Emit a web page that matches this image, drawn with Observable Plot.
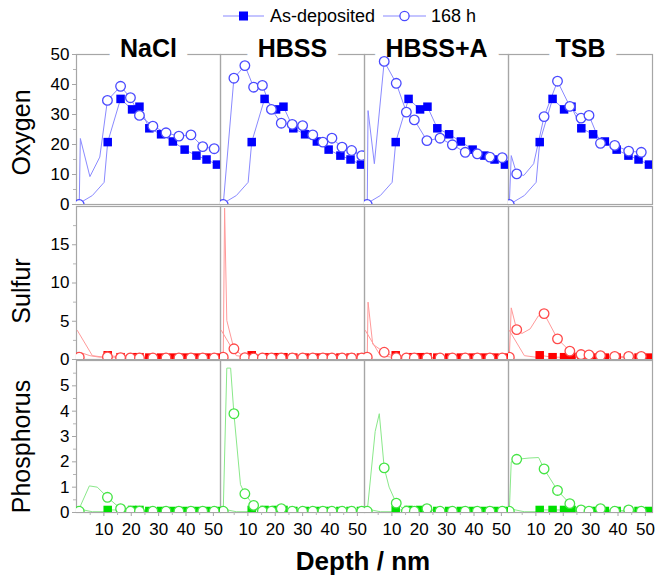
<!DOCTYPE html>
<html><head><meta charset="utf-8">
<script src="https://cdn.jsdelivr.net/npm/d3@7"></script>
<script src="https://cdn.jsdelivr.net/npm/@observablehq/plot@0.6"></script>
<style>
body{margin:0;background:#fff;font-family:"Liberation Sans",Arial,sans-serif;}
#chart{position:relative;width:660px;height:579px;overflow:hidden;background:#fff;}
</style></head><body><div id="chart"></div>
<script>
// ---------- categories / ticks ----------
const media = ["NaCl", "HBSS", "HBSS+A", "TSB"];
const seriesNames = ["As-deposited", "168 h"];
const xTicks = [10, 20, 30, 40, 50];
const xMinorTicks = [5, 15, 25, 35, 45];
const oxygenTicks = [0, 10, 20, 30, 40, 50];
const oxygenMinor = [5, 15, 25, 35, 45];
const sulfurTicks = [0, 5, 10, 15];
const sulfurMinor = [2.5, 7.5, 12.5, 17.5];
const phosphorusTicks = [0, 1, 2, 3, 4, 5];
const phosphorusMinor = [0.5, 1.5, 2.5, 3.5, 4.5, 5.5];

// ---------- As-deposited (same sample in every panel) ----------
const adDepth = [11.4, 16.1, 20.3, 23.0, 26.6, 30.9, 35.2, 39.5, 43.8, 47.5, 51.3];
const adOxygen = [20.8, 35.2, 31.7, 32.6, 25.4, 23.4, 21.0, 18.3, 16.3, 15.0, 13.3];
const adSulfur = [0.55, 0.3, 0.3, 0.3, 0.25, 0.25, 0.25, 0.25, 0.25, 0.25, 0.25];
const adPhosphorus = [0.1, 0.1, 0.1, 0.1, 0.06, 0.06, 0.06, 0.06, 0.06, 0.06, 0.06];
// surface points of the profile line (no marker)
const adSurfaceDepth = [0.3, 5.8, 10.1];
const adSurfaceOxygen = [0, 3.0, 7.4];
const adSurfaceSulfur = [3.8, 0.5, 0.3];
const adSurfacePhosphorus = [0.15, 0.03, 0.03];

// ---------- 168 h : NaCl ----------
const nacl168Depth = [1.0, 11.3, 16.1, 19.7, 23.0, 27.9, 32.7, 37.4, 41.8, 46.1, 50.3];
const nacl168Oxygen = [0, 34.7, 39.4, 35.6, 29.7, 26.1, 23.9, 22.8, 23.2, 19.3, 18.6];
const nacl168Sulfur = [0.3, 0.35, 0.25, 0.2, 0.2, 0.2, 0.2, 0.2, 0.2, 0.2, 0.2];
const nacl168Phosphorus = [0.05, 0.6, 0.15, 0.05, 0.05, 0.05, 0.05, 0.05, 0.05, 0.05, 0.05];
const nacl168OxygenSurface = [[1.4, 22], [4.9, 9.3], [8.5, 15.8]];
const nacl168SulfurSurface = [[1.6, 0.9], [4.9, 0.5], [8.5, 0.3]];
const nacl168PhosphorusSurface = [[1.6, 0.3], [4.7, 1.05], [7.6, 1.0]];

// ---------- 168 h : HBSS ----------
const hbss168Depth = [1.0, 4.9, 8.9, 12.1, 15.3, 18.6, 22.2, 26.2, 30.0, 33.7, 37.4, 40.7, 44.4, 47.9, 51.6];
const hbss168Oxygen = [0, 42.1, 46.3, 39.1, 39.7, 31.7, 27.1, 26.7, 26.3, 23.2, 20.8, 22.1, 19.1, 18.0, 16.3];
const hbss168Sulfur = [0.3, 1.4, 0.25, 0.2, 0.2, 0.2, 0.2, 0.2, 0.2, 0.2, 0.2, 0.2, 0.2, 0.2, 0.2];
const hbss168Phosphorus = [0.05, 3.9, 0.74, 0.28, 0.05, 0.05, 0.15, 0.05, 0.05, 0.05, 0.05, 0.05, 0.05, 0.05, 0.05];
const hbss168OxygenSurface = [];
const hbss168SulfurSurface = [[1.5, 19.8], [2.3, 5.1]];
const hbss168PhosphorusSurface = [[2.3, 5.7], [3.7, 5.7], [7.3, 1.1]];

// ---------- 168 h : HBSS+A ----------
const hbssa168Depth = [1.0, 7.2, 11.6, 15.3, 18.2, 22.8, 27.6, 32.1, 36.8, 41.2, 45.8, 50.3];
const hbssa168Oxygen = [0, 47.7, 40.4, 30.8, 28.2, 21.3, 22.1, 19.9, 17.4, 16.9, 15.8, 15.6];
const hbssa168Sulfur = [0.3, 0.95, 0.25, 0.2, 0.2, 0.2, 0.2, 0.2, 0.2, 0.2, 0.2, 0.2];
const hbssa168Phosphorus = [0.05, 1.76, 0.37, 0.05, 0.05, 0.15, 0.05, 0.05, 0.05, 0.05, 0.05, 0.05];
const hbssa168OxygenSurface = [[1.3, 31.3], [3.6, 13.6]];
const hbssa168SulfurSurface = [[1.3, 7.5], [3.0, 2.0]];
const hbssa168PhosphorusSurface = [[3.9, 3.2], [5.4, 3.9], [9.0, 1.0]];

// ---------- 168 h : TSB ----------
const tsb168Depth = [0.3, 3.0, 13.0, 17.9, 22.4, 26.5, 29.4, 33.6, 38.8, 43.9, 48.5];
const tsb168Oxygen = [0, 10.2, 29.3, 41.1, 32.7, 28.8, 29.7, 20.4, 19.7, 17.8, 17.4];
const tsb168Sulfur = [0.3, 3.9, 6.0, 2.7, 1.1, 0.65, 0.6, 0.5, 0.4, 0.4, 0.4];
const tsb168Phosphorus = [0.05, 2.1, 1.72, 0.87, 0.35, 0.1, 0.05, 0.15, 0.05, 0.1, 0.05];
const tsb168OxygenSurface = [[1.0, 16.3], [5.6, 9.7], [9.2, 13.6]];
const tsb168SulfurSurface = [[1.0, 6.75], [4.9, 3.4], [7.9, 4.0], [10.9, 5.7]];
const tsb168PhosphorusSurface = [[1.0, 2.0], [7.5, 2.15], [11.0, 2.17]];

// ---------- assemble ----------
const adByElement = {
  Oxygen: [adOxygen, adSurfaceOxygen],
  Sulfur: [adSulfur, adSurfaceSulfur],
  Phosphorus: [adPhosphorus, adSurfacePhosphorus]
};
const h168 = {
  "NaCl": {depth: nacl168Depth, Oxygen: [nacl168Oxygen, nacl168OxygenSurface], Sulfur: [nacl168Sulfur, nacl168SulfurSurface], Phosphorus: [nacl168Phosphorus, nacl168PhosphorusSurface]},
  "HBSS": {depth: hbss168Depth, Oxygen: [hbss168Oxygen, hbss168OxygenSurface], Sulfur: [hbss168Sulfur, hbss168SulfurSurface], Phosphorus: [hbss168Phosphorus, hbss168PhosphorusSurface]},
  "HBSS+A": {depth: hbssa168Depth, Oxygen: [hbssa168Oxygen, hbssa168OxygenSurface], Sulfur: [hbssa168Sulfur, hbssa168SulfurSurface], Phosphorus: [hbssa168Phosphorus, hbssa168PhosphorusSurface]},
  "TSB": {depth: tsb168Depth, Oxygen: [tsb168Oxygen, tsb168OxygenSurface], Sulfur: [tsb168Sulfur, tsb168SulfurSurface], Phosphorus: [tsb168Phosphorus, tsb168PhosphorusSurface]}
};

function makeSeries(medium, name, depths, values, extra) {
  const pts = depths.map((d, i) => ({medium, series: name, depth: d, value: values[i], marker: true}));
  extra.forEach(([d, v]) => pts.push({medium, series: name, depth: d, value: v, marker: false}));
  return pts.sort((a, b) => a.depth - b.depth);
}
function rowsFor(el) {
  const out = [];
  for (const m of media) {
    const [adVals, adSurf] = adByElement[el];
    out.push(...makeSeries(m, seriesNames[0], adDepth, adVals, adSurfaceDepth.map((d, i) => [d, adSurf[i]])));
    const h = h168[m];
    out.push(...makeSeries(m, seriesNames[1], h.depth, h[el][0], h[el][1]));
  }
  return out;
}

const FONT = "'Liberation Sans', Arial, Helvetica, sans-serif";
const rows = [
  {el: "Oxygen", domain: [0, 50], ticks: oxygenTicks, minor: oxygenMinor, top: 0, height: 206, mt: 54, mb: 2, labelDy: 3, titles: true, xAxis: false,
   square: "#0000ff", circle: "#4a4aff", line: "#8a8aff"},
  {el: "Sulfur", domain: [0, 20], ticks: sulfurTicks, minor: sulfurMinor, top: 204, height: 157, mt: 2, mb: 2, labelDy: 8, titles: false, xAxis: false,
   square: "#ff0000", circle: "#ff4a4a", line: "#ff9a9a"},
  {el: "Phosphorus", domain: [0, 6], ticks: phosphorusTicks, minor: phosphorusMinor, top: 358, height: 221, mt: 2, mb: 67, labelDy: 10, titles: false, xAxis: true,
   square: "#00e000", circle: "#44e444", line: "#8ae88a"}
];

const chart = document.getElementById("chart");

for (const cfg of rows) {
  const data = rowsFor(cfg.el);
  const marks = [
    Plot.frame({stroke: "#a6a6a6", strokeWidth: 1.2}),
    Plot.axisY({ticks: cfg.minor, tickSize: 3, tickFormat: () => "", stroke: "#b5b5b5", label: null}),
    Plot.axisY({ticks: cfg.ticks, tickSize: 4, tickPadding: 3, tickFormat: d => String(d), fontSize: 17, stroke: "#a6a6a6", fill: "black", label: null}),
    Plot.text([cfg.el], {fx: () => media[0], frameAnchor: "left", textAnchor: "middle", lineAnchor: "middle", text: d => d, rotate: -90, dx: -55, dy: cfg.labelDy, fontSize: 25, fill: "black"})
  ];
  if (cfg.titles) {
    marks.push(Plot.text(media, {fx: d => d, text: d => d, frameAnchor: "top", textAnchor: "middle", lineAnchor: "middle", dy: -6, fontSize: 25, fontWeight: "bold",
      fill: "black", stroke: "white", strokeWidth: 24, strokeLinejoin: "round", paintOrder: "stroke"}));
  }
  if (cfg.xAxis) {
    marks.push(
      Plot.axisX({ticks: xMinorTicks, tickSize: 3, tickFormat: () => "", stroke: "#b5b5b5", label: null}),
      Plot.axisX({ticks: xTicks, tickSize: 4, tickPadding: 6, tickFormat: d => String(d), fontSize: 17, stroke: "#a6a6a6", fill: "black", label: null})
    );
  }
  marks.push(
    Plot.line(data, {fx: "medium", x: "depth", y: "value", z: "series", stroke: cfg.line, strokeWidth: 1, clip: true}),
    Plot.dot(data.filter(d => d.marker && d.series === seriesNames[0]), {fx: "medium", x: "depth", y: "value", symbol: "square", r: 4.8, fill: cfg.square, stroke: "none", clip: true}),
    Plot.dot(data.filter(d => d.marker && d.series === seriesNames[1]), {fx: "medium", x: "depth", y: "value", symbol: "circle", r: 4.8, fill: "white", stroke: cfg.circle, strokeWidth: 1.3, clip: true})
  );
  const svg = Plot.plot({
    width: 660, height: cfg.height,
    marginLeft: 74, marginRight: 7, marginTop: cfg.mt, marginBottom: cfg.mb,
    fx: {domain: media, padding: 0, axis: null, label: null},
    x: {domain: [0, 52.6], axis: null},
    y: {domain: cfg.domain, axis: null},
    style: {background: "transparent", fontFamily: FONT, fontSize: "16px", overflow: "visible", color: "black"},
    marks
  });
  svg.style.position = "absolute";
  svg.style.left = "0px";
  svg.style.top = cfg.top + "px";
  chart.appendChild(svg);
}

// ---------- legend and x-axis title ----------
const ov = d3.create("svg").attr("width", 660).attr("height", 579)
  .style("position", "absolute").style("left", "0px").style("top", "0px")
  .attr("font-family", FONT);
const ly = 16;
const lg = ov.append("g").attr("font-size", 18).attr("fill", "black");
lg.append("line").attr("x1", 223).attr("x2", 264).attr("y1", ly).attr("y2", ly).attr("stroke", "#8a8aff").attr("stroke-width", 1.2);
lg.append("rect").attr("x", 239).attr("y", ly - 4.5).attr("width", 9).attr("height", 9).attr("fill", "#0000ff");
lg.append("text").attr("x", 270).attr("y", ly).attr("dy", "0.35em").text(seriesNames[0]);
lg.append("line").attr("x1", 383).attr("x2", 426).attr("y1", ly).attr("y2", ly).attr("stroke", "#8a8aff").attr("stroke-width", 1.2);
lg.append("circle").attr("cx", 404.5).attr("cy", ly).attr("r", 4.6).attr("fill", "white").attr("stroke", "#4a4aff").attr("stroke-width", 1.3);
lg.append("text").attr("x", 431).attr("y", ly).attr("dy", "0.35em").text(seriesNames[1]);
ov.append("text").attr("x", 363).attr("y", 570).attr("text-anchor", "middle").attr("font-size", 26).attr("font-weight", "bold").attr("fill", "black").text("Depth / nm");
chart.appendChild(ov.node());
</script></body></html>
